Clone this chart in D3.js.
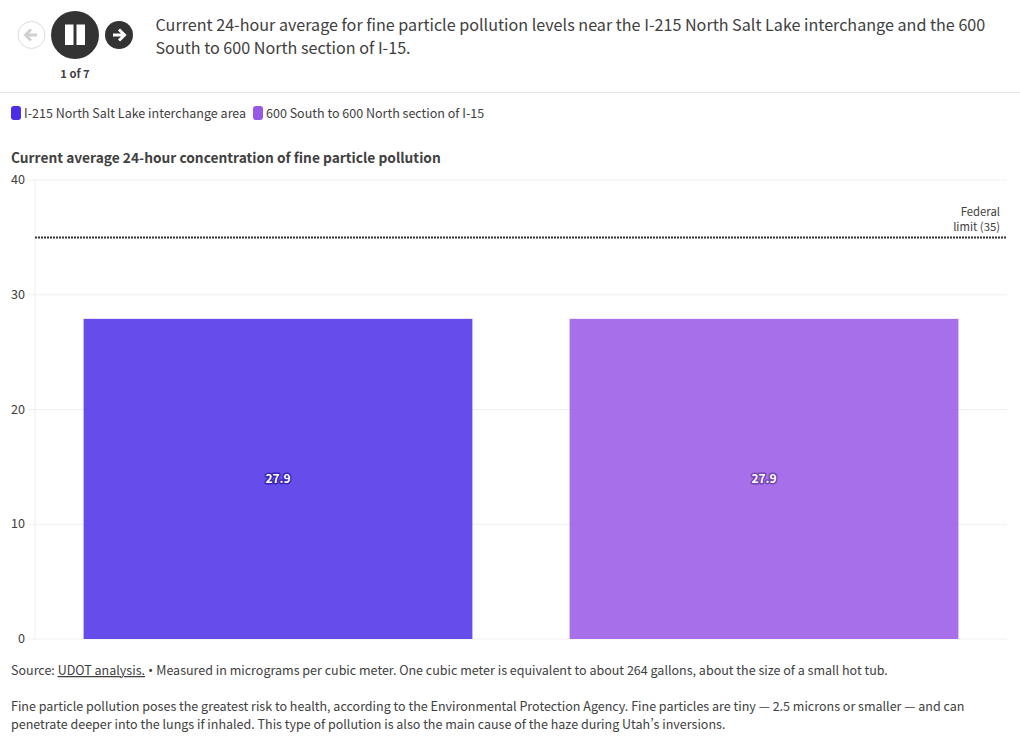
<!DOCTYPE html>
<html>
<head>
<meta charset="utf-8">
<script src="https://cdn.jsdelivr.net/npm/d3@7"></script>
<style>
  html, body { margin: 0; padding: 0; background: #fff; overflow: hidden; }
  text { font-family: "Noto Sans CJK SC", "Noto Sans", sans-serif; font-feature-settings: "pwid"; }
</style>
</head>
<body>
<div id="chart"></div>
<script>
// chart values
const categories = ['I-215 North Salt Lake interchange area', '600 South to 600 North section of I-15'];
const values = [27.9, 27.9];
const colors = ['#4b2ee8', '#9857e6'];
const yTicks = [0, 10, 20, 30, 40];
const federalLimit = 35;
const limitLabel = ['Federal', 'limit (35)'];
const headline = [
    'Current 24-hour average for fine particle pollution levels near the I-215 North Salt Lake interchange and the 600',
    'South to 600 North section of I-15.'
];
const chartTitle = 'Current average 24-hour concentration of fine particle pollution';
const notes = [
    'Fine particle pollution poses the greatest risk to health, according to the Environmental Protection Agency. Fine particles are tiny — 2.5 microns or smaller — and can',
    'penetrate deeper into the lungs if inhaled. This type of pollution is also the main cause of the haze during Utah’s inversions.'
];

const width = 1020, height = 743;
const textColor = '#404040';

const svg = d3.select('#chart').append('svg')
    .attr('width', width)
    .attr('height', height)
    .attr('viewBox', `0 0 ${width} ${height}`)
    .style('display', 'block');

// player controls
const controls = svg.append('g').attr('class', 'controls');
controls.append('circle').attr('cx', 31.5).attr('cy', 35).attr('r', 13.5)
    .attr('fill', '#fff').attr('stroke', '#dcdcdc').attr('stroke-width', 1);
controls.append('path').attr('d', 'M37 35H26M31 29.5L25.5 35L31 40.5')
    .attr('fill', 'none').attr('stroke', '#d0d0d0').attr('stroke-width', 3);
controls.append('circle').attr('cx', 75).attr('cy', 35).attr('r', 24).attr('fill', '#333');
controls.append('rect').attr('x', 65).attr('y', 24.5).attr('width', 8.5).attr('height', 20.5).attr('fill', '#fff');
controls.append('rect').attr('x', 76.5).attr('y', 24.5).attr('width', 8.5).attr('height', 20.5).attr('fill', '#fff');
controls.append('circle').attr('cx', 119).attr('cy', 35).attr('r', 14).attr('fill', '#333');
controls.append('path').attr('d', 'M113 35H124M119 29.5L124.5 35L119 40.5')
    .attr('fill', 'none').attr('stroke', '#fff').attr('stroke-width', 3);
controls.append('text').attr('x', 75).attr('y', 78).attr('text-anchor', 'middle')
    .attr('font-size', 11.2).attr('font-weight', 700).attr('fill', textColor).text('1 of 7');

svg.selectAll('.headline').data(headline).join('text')
    .attr('class', 'headline')
    .attr('x', 155.5)
    .attr('y', (d, i) => 31 + i * 23)
    .attr('font-size', 16.14)
    .attr('fill', textColor)
    .text(d => d);

svg.append('line').attr('x1', 0).attr('x2', width).attr('y1', 92.5).attr('y2', 92.5)
    .attr('stroke', '#e6e6e6');

// legend
const legendX = [11, 253];
categories.forEach((name, i) => {
    svg.append('rect').attr('x', legendX[i]).attr('y', 106).attr('width', 10).attr('height', 14).attr('rx', 3)
        .attr('fill', colors[i]);
    svg.append('text').attr('x', legendX[i] + 13).attr('y', 118).attr('font-size', 12.53)
        .attr('fill', textColor).text(name);
});

svg.append('text').attr('x', 11).attr('y', 162.5)
    .attr('font-size', 13.75).attr('font-weight', 700).attr('fill', textColor).text(chartTitle);

// scales
const x = d3.scaleBand().domain(categories).range([35, 1007]).paddingInner(0.2).paddingOuter(0.1);
const y = d3.scaleLinear().domain([0, 40]).range([639, 180]);

const yAxis = d3.axisLeft(y).tickValues(yTicks).tickSize(0).tickPadding(10).offset(0);
const axisG = svg.append('g').attr('transform', 'translate(35,0)').call(yAxis);
axisG.select('.domain').attr('stroke', '#f0f0f0');
axisG.selectAll('.tick text').attr('font-size', 12.6).attr('fill', textColor)
    .style('font-family', '"Noto Sans CJK SC", sans-serif');
axisG.selectAll('.tick line').attr('x1', -6).attr('x2', 972).attr('stroke', '#f0f0f0');

// bars
svg.selectAll('.bar').data(categories).join('rect')
    .attr('class', 'bar')
    .attr('x', d => x(d))
    .attr('y', (d, i) => y(values[i]))
    .attr('width', x.bandwidth())
    .attr('height', (d, i) => y(0) - y(values[i]))
    .attr('fill', (d, i) => colors[i])
    .attr('fill-opacity', 0.85);

svg.selectAll('.bar-label').data(categories).join('text')
    .attr('class', 'bar-label')
    .attr('x', d => x(d) + x.bandwidth() / 2)
    .attr('y', (d, i) => y(values[i] / 2) + 4.5)
    .attr('text-anchor', 'middle')
    .attr('font-size', 12)
    .attr('font-weight', 700)
    .attr('fill', '#fff')
    .attr('stroke', (d, i) => d3.color(colors[i]).darker(0.7))
    .attr('stroke-width', 3)
    .attr('stroke-linejoin', 'round')
    .style('paint-order', 'stroke')
    .text((d, i) => values[i]);

// federal limit line
svg.append('line')
    .attr('x1', 35).attr('x2', 1006)
    .attr('y1', y(federalLimit)).attr('y2', y(federalLimit))
    .attr('stroke', '#333').attr('stroke-width', 2).attr('stroke-dasharray', '2 1');
svg.selectAll('.limit-label').data(limitLabel).join('text')
    .attr('class', 'limit-label')
    .attr('x', 1000)
    .attr('y', (d, i) => 216 + i * 15)
    .attr('text-anchor', 'end')
    .attr('font-size', 11.3)
    .attr('fill', textColor)
    .text(d => d);

// source and notes
const source = svg.append('text').attr('x', 11).attr('y', 675).attr('font-size', 12.53).attr('fill', textColor);
source.append('tspan').text('Source: ');
source.append('tspan').attr('text-decoration', 'underline').text('UDOT analysis.');
source.append('tspan').style('font-family', '"Noto Sans", sans-serif').text(' • ');
source.append('tspan').text('Measured in micrograms per cubic meter. One cubic meter is equivalent to about 264 gallons, about the size of a small hot tub.');

svg.selectAll('.note').data(notes).join('text')
    .attr('class', 'note')
    .attr('x', 11)
    .attr('y', (d, i) => 711 + i * 18)
    .attr('font-size', 12.53)
    .attr('fill', textColor)
    .text(d => d);
</script>
</body>
</html>
